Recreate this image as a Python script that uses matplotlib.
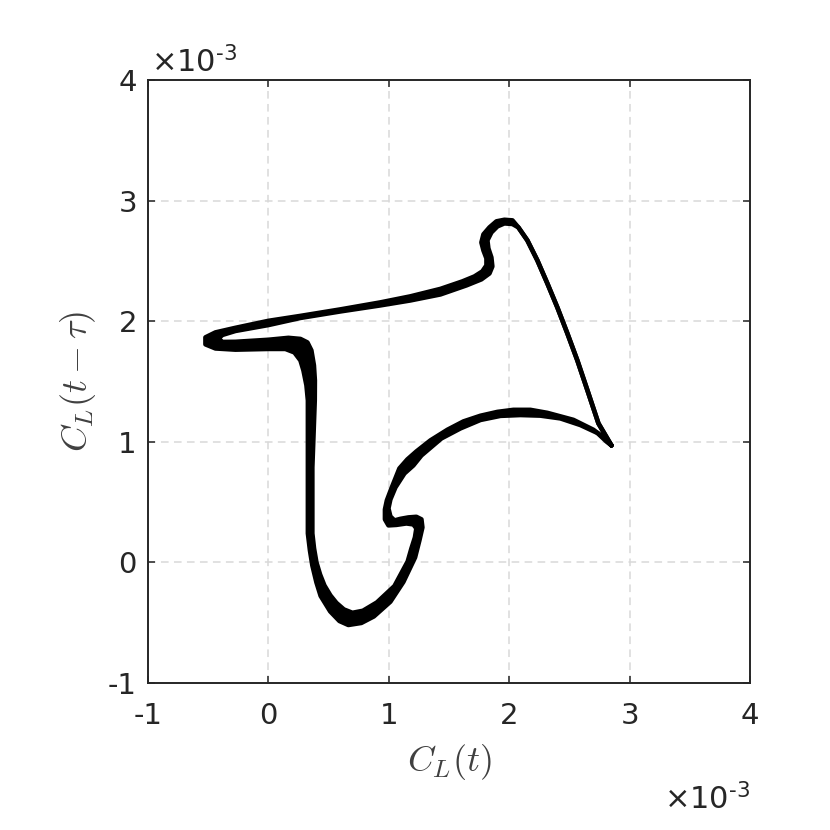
import numpy as np
import matplotlib
matplotlib.use("Agg")
import matplotlib.pyplot as plt

# phase portrait C_L(t) vs C_L(t - tau), values in units of 1e-3
# the trajectory is a band: cycle_a runs along its right-hand edge, cycle_b along its left-hand edge
cycle_a_x = [2.849, 2.741, 2.650, 2.566, 2.483, 2.400, 2.317, 2.234, 2.151, 2.076,
             2.027, 1.960, 1.894, 1.836, 1.786, 1.769, 1.786, 1.811, 1.811, 1.777,
             1.711, 1.611, 1.429, 1.179, 0.930, 0.598, 0.266, 0.000, -0.274, -0.440,
             -0.523, -0.523, -0.440, -0.274, 0.000, 0.141, 0.216, 0.266, 0.291, 0.316,
             0.328, 0.328, 0.328, 0.345, 0.365, 0.399, 0.434, 0.513, 0.590, 0.664,
             0.772, 0.876, 1.013, 1.121, 1.218, 1.254, 1.279, 1.271, 1.229, 1.163,
             1.096, 1.047, 1.013, 0.997, 1.013, 1.055, 1.130, 1.204, 1.271, 1.437,
             1.595, 1.761, 1.927, 2.093, 2.259, 2.425, 2.591, 2.733, 2.807]
cycle_a_y = [0.970, 1.153, 1.426, 1.675, 1.899, 2.114, 2.313, 2.504, 2.670, 2.778,
             2.836, 2.841, 2.828, 2.778, 2.720, 2.653, 2.587, 2.521, 2.463, 2.413,
             2.371, 2.330, 2.268, 2.206, 2.156, 2.098, 2.044, 2.003, 1.945, 1.907,
             1.866, 1.808, 1.774, 1.764, 1.770, 1.770, 1.741, 1.675, 1.592, 1.468,
             1.343, 0.788, 0.240, 0.100, -0.025, -0.166, -0.278, -0.406, -0.486, -0.519,
             -0.502, -0.448, -0.326, -0.162, 0.041, 0.182, 0.290, 0.357, 0.378, 0.373,
             0.361, 0.348, 0.381, 0.448, 0.522, 0.622, 0.738, 0.804, 0.887, 1.028,
             1.111, 1.181, 1.215, 1.222, 1.217, 1.194, 1.139, 1.073, 1.003]

cycle_b_x = [2.849, 2.741, 2.650, 2.566, 2.483, 2.400, 2.317, 2.234, 2.151, 2.076,
             2.027, 1.960, 1.902, 1.852, 1.819, 1.827, 1.852, 1.860, 1.836, 1.769,
             1.645, 1.429, 1.179, 0.930, 0.598, 0.266, 0.000, -0.274, -0.382, -0.415,
             -0.382, -0.274, 0.000, 0.166, 0.266, 0.324, 0.357, 0.378, 0.386, 0.385,
             0.365, 0.365, 0.379, 0.399, 0.429, 0.465, 0.515, 0.565, 0.627, 0.698,
             0.785, 0.901, 1.047, 1.157, 1.188, 1.217, 1.229, 1.204, 1.146, 1.063,
             0.997, 0.968, 0.968, 0.984, 1.022, 1.088, 1.154, 1.229, 1.346, 1.487,
             1.620, 1.761, 1.902, 2.035, 2.176, 2.317, 2.533, 2.699, 2.816]
cycle_b_y = [0.970, 1.153, 1.426, 1.675, 1.899, 2.114, 2.313, 2.504, 2.670, 2.778,
             2.806, 2.811, 2.786, 2.736, 2.670, 2.604, 2.529, 2.454, 2.396, 2.347,
             2.297, 2.222, 2.172, 2.131, 2.081, 2.027, 1.968, 1.919, 1.886, 1.857,
             1.828, 1.829, 1.846, 1.862, 1.853, 1.824, 1.758, 1.634, 1.509, 1.343,
             0.788, 0.240, 0.116, 0.000, -0.100, -0.191, -0.274, -0.336, -0.390, -0.418,
             -0.401, -0.332, -0.196, 0.008, 0.116, 0.207, 0.282, 0.315, 0.323, 0.311,
             0.307, 0.357, 0.439, 0.514, 0.614, 0.779, 0.854, 0.920, 1.012, 1.100,
             1.169, 1.216, 1.248, 1.265, 1.265, 1.240, 1.182, 1.100, 1.012]

ticks = [-1, 0, 1, 2, 3, 4]

plt.rcParams['font.family'] = 'DejaVu Sans'
plt.rcParams['mathtext.fontset'] = 'cm'
plt.rcParams['axes.unicode_minus'] = False

txt_col = '#262626'

fig = plt.figure(figsize=(8.3, 8.3), dpi=100)
ax = fig.add_axes([148 / 830, 147 / 830, 602 / 830, 603 / 830])

ax_ = np.r_[cycle_a_x, cycle_a_x[0]]
ay_ = np.r_[cycle_a_y, cycle_a_y[0]]
bx_ = np.r_[cycle_b_x, cycle_b_x[0]]
by_ = np.r_[cycle_b_y, cycle_b_y[0]]

# fill the band between the two edges, then stroke both edges
ax.fill(np.r_[ax_, bx_[::-1]], np.r_[ay_, by_[::-1]], color='k', lw=0)
for xs, ys in [(ax_, ay_), (bx_, by_)]:
    ax.plot(xs, ys, color='k', lw=3.3, solid_joinstyle='round', solid_capstyle='round')

ax.set_xlim(-1, 4)
ax.set_ylim(-1, 4)
ax.set_xticks(ticks)
ax.set_yticks(ticks)
ax.set_xticklabels([str(t) for t in ticks])
ax.set_yticklabels([str(t) for t in ticks])
ax.grid(True, color='#d9d9d9', linestyle=(0, (5, 3.5)), lw=1.1)
ax.set_axisbelow(True)

ax.tick_params(direction='in', length=5, width=1.1, top=True, right=True,
               labelsize=21, colors=txt_col, pad=8)
ax.tick_params(axis='x', pad=14)
for s in ax.spines.values():
    s.set_linewidth(1.4)
    s.set_color(txt_col)

ax.set_xlabel(r'$C_L(t)$', fontsize=26, color='#404040', labelpad=8)
ax.set_ylabel(r'$C_L(t-\tau)$', fontsize=26, color='#404040', labelpad=7)

ax.text(0.005, 1.013, r'$\times10^{\text{-3}}$', transform=ax.transAxes, fontsize=22,
        color=txt_col, math_fontfamily='dejavusans', ha='left', va='baseline')
ax.text(1.0, -0.21, r'$\times10^{\text{-3}}$', transform=ax.transAxes, fontsize=22,
        color=txt_col, math_fontfamily='dejavusans', ha='right', va='baseline')

plt.savefig('out.png', dpi=100)
